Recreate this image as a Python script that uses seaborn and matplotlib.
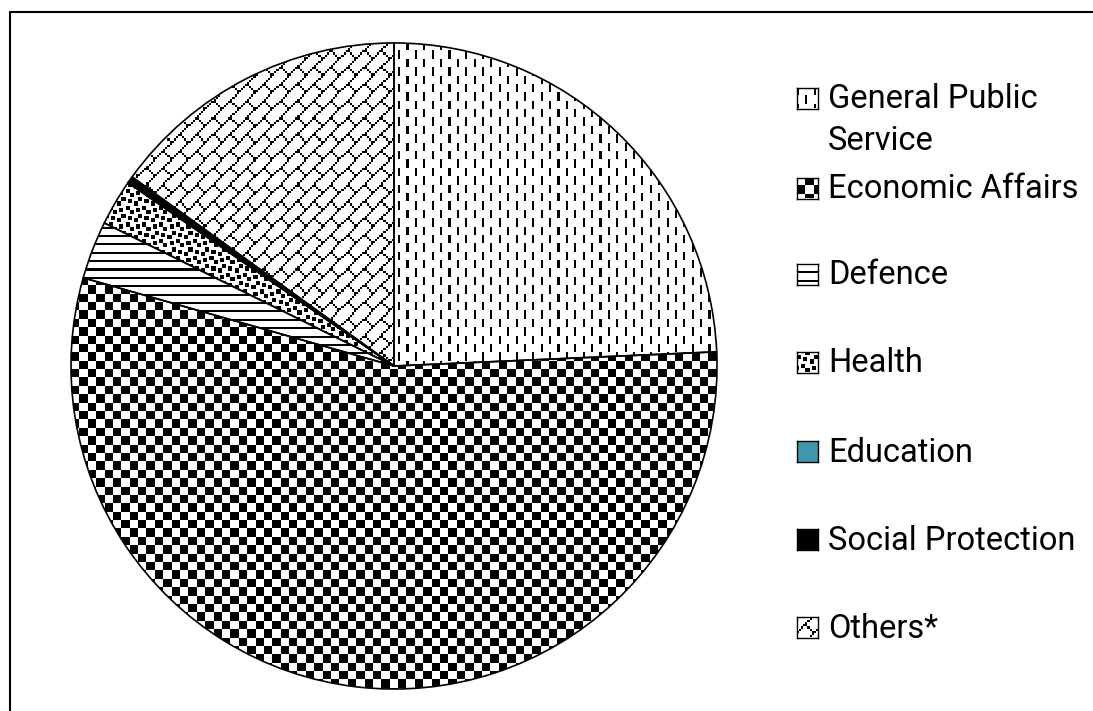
import numpy as np
import matplotlib
matplotlib.use("Agg")
import matplotlib.pyplot as plt
from matplotlib.patches import Wedge
from matplotlib.lines import Line2D
from matplotlib.font_manager import FontProperties
import seaborn as sns

# Expenditure shares by function (%)
categories = ["General Public Service", "Economic Affairs", "Defence", "Health",
              "Education", "Social Protection", "Others*"]
legend_labels = ["General Public\nService", "Economic Affairs", "Defence", "Health",
                 "Education", "Social Protection", "Others*"]
shares = [24.3, 55.1, 2.9, 2.3, 0.05, 0.3, 15.05]

FAMILY = "Roboto"
sns.set_theme(style="white")
plt.rcParams["font.family"] = [FAMILY, "DejaVu Sans"]

# 8x8 fill patterns (1 = black pixel)
def bits(rows):
    return np.array([[int(ch) for ch in r] for r in rows], dtype=float)

patterns = {
    "General Public Service": bits(["10000000", "10000000", "10000000", "10000000",
                                    "00001000", "00001000", "00001000", "00001000"]),
    "Economic Affairs": np.fromfunction(lambda r, c: ((r // 4) + (c // 4)) % 2, (8, 8)),
    "Defence": bits(["11111111", "00000000", "00000000", "00000000",
                     "11111111", "00000000", "00000000", "00000000"]),
    "Health": bits(["10001101", "00001100", "11000000", "11011000",
                    "00011011", "00000011", "00110000", "10110001"]),
    "Others*": np.fliplr(bits(["10000000", "01000000", "00100000", "00010000",
                               "00011000", "00100100", "01000010", "10000001"])),
}
solid = {"Education": "#4298AF", "Social Protection": "#000000"}

W, H, DPI = 1093, 711, 100
fig = plt.figure(figsize=(W / DPI, H / DPI), dpi=DPI)
fig.patch.set_facecolor("white")

# pie placement in pixels
cx, cy, R = 394, 366, 324
ax = fig.add_axes([(cx - R) / W, (H - cy - R) / H, 2 * R / W, 2 * R / H])

face = [solid.get(c, "white") for c in categories]
wedges, _ = ax.pie(shares, startangle=90, counterclock=False, colors=face,
                   wedgeprops=dict(linewidth=0), frame=False)

PX = 2.1  # screen pixels per pattern pixel
p = PX / R
ntile = int(np.ceil(2 / p / 8)) + 1
for w, cat in zip(wedges, categories):
    if cat in patterns:
        tex = np.tile(patterns[cat], (ntile, ntile))
        n = tex.shape[0]
        im = ax.imshow(1 - tex, cmap="gray", vmin=0, vmax=1, interpolation="nearest",
                       extent=(-1, -1 + n * p, 1 - n * p, 1), zorder=2)
        im.set_clip_path(w)

for w in wedges:
    ax.add_patch(Wedge(w.center, w.r, w.theta1, w.theta2, fill=False,
                       ec="black", lw=1.2, zorder=3))

ax.set_xlim(-1.003, 1.003)
ax.set_ylim(-1.003, 1.003)
ax.set_aspect("equal")
ax.axis("off")

# chart area border (left and top edges)
fig.add_artist(Line2D([10 / W, 10 / W], [0, (H - 12) / H], transform=fig.transFigure,
                      color="black", lw=1.5))
fig.add_artist(Line2D([10 / W, 1], [(H - 12) / H, (H - 12) / H], transform=fig.transFigure,
                      color="black", lw=1.5))

# legend
renderer = fig.canvas.get_renderer()
probe = FontProperties(family=[FAMILY], size=20)
wpx, _, _ = renderer.get_text_width_height_descent("Economic Affairs", probe, ismath=False)
fs = 20 * 250 / wpx
fp = FontProperties(family=[FAMILY], size=fs)
_, lp_h, lp_d = renderer.get_text_width_height_descent("lp", fp, ismath=False)
LINE_GAP = 42
ls = (LINE_GAP - lp_d) / (lp_h - lp_d)

row_y = [98, 188, 274, 362, 451, 539, 627]
msize = 21
for cat, lab, yc in zip(categories, legend_labels, row_y):
    max_ = fig.add_axes([797 / W, (H - yc - msize / 2) / H, msize / W, msize / H])
    if cat in patterns:
        tile = np.tile(patterns[cat], (3, 3))
        k = msize / PX
        max_.imshow(1 - tile, cmap="gray", vmin=0, vmax=1, interpolation="nearest",
                    extent=(0, tile.shape[1], tile.shape[0], 0))
        max_.set_xlim(0, k)
        max_.set_ylim(k, 0)
        max_.set_aspect("auto")
    else:
        max_.set_facecolor(solid[cat])
    max_.set_xticks([])
    max_.set_yticks([])
    for s in max_.spines.values():
        s.set_visible(True)
        s.set_color("black")
        s.set_linewidth(1.0)
    # baseline of the last line of the label
    base = yc + 10.5 + LINE_GAP * lab.count("\n")
    fig.text(828 / W, (H - base) / H, lab, ha="left", va="baseline",
             fontsize=fs, color="black", linespacing=ls)

fig.savefig("out.png", dpi=DPI, facecolor="white")
